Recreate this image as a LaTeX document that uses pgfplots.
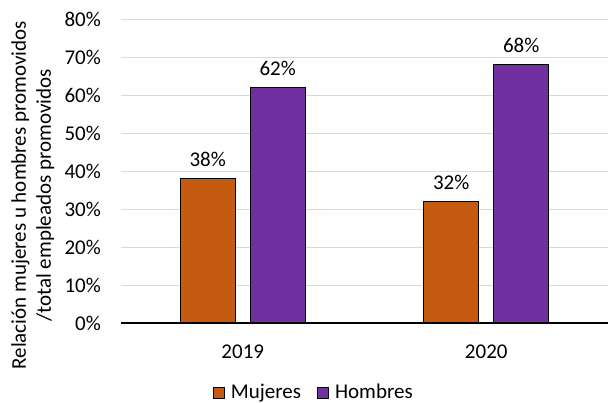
\documentclass[border=0pt]{standalone}
\usepackage{pgfplots}
\pgfplotsset{compat=1.18}
\usepackage{fontspec}
\setmainfont{Carlito}
\definecolor{muj}{HTML}{C55A11}
\definecolor{hom}{HTML}{7030A0}
\definecolor{gridc}{HTML}{D9D9D9}
\begin{document}
\fontsize{21bp}{25bp}\selectfont
\begin{tikzpicture}
\useasboundingbox (-121bp,-80bp) rectangle (488bp,323bp);
\begin{axis}[
  scale only axis,
  width=487bp, height=304bp,
  xmin=-0.5, xmax=1.5,
  ymin=0, ymax=80,
  ybar=15bp, bar width=55bp,
  xtick={0,1}, xticklabels={2019,2020},
  ytick={0,10,...,80},
  yticklabel={\pgfmathprintnumber{\tick}\%},
  /pgf/number format/assume math mode=true,
  major tick length=0pt,
  ymajorgrids, xmajorgrids=false,
  grid style={draw=gridc, line width=0.8bp},
  axis x line*=bottom,
  axis y line*=left,
  y axis line style={draw=none},
  x axis line style={draw=black, line width=1.3bp, -},
  yticklabel style={xshift=-13bp},
  xticklabel style={yshift=-15bp},
  ylabel={Relación mujeres u hombres promovidos\\/total empleados promovidos},
  ylabel style={at={(axis description cs:-0.181,0.42)}, anchor=center, align=center},
  legend style={at={(axis description cs:0.396,-0.23)}, anchor=center, draw=none, legend columns=2, fill=none,
     nodes={inner sep=2bp},
     /tikz/every odd column/.append style={column sep=4bp},
     /tikz/every even column/.append style={column sep=14bp}},
  legend image code/.code={\draw[#1, line width=1bp] (0bp,-5.5bp) rectangle (11bp,5.5bp);},
  nodes near coords={\pgfmathprintnumber{\pgfplotspointmeta}\%},
  nodes near coords style={/pgf/number format/assume math mode=true, yshift=4bp, black},
]
\addplot[fill=muj, draw=black, line width=1.2bp] coordinates {(0,38) (1,32)};
\addplot[fill=hom, draw=black, line width=1.2bp] coordinates {(0,62) (1,68)};
\legend{Mujeres, Hombres}
\end{axis}
\end{tikzpicture}
\end{document}
